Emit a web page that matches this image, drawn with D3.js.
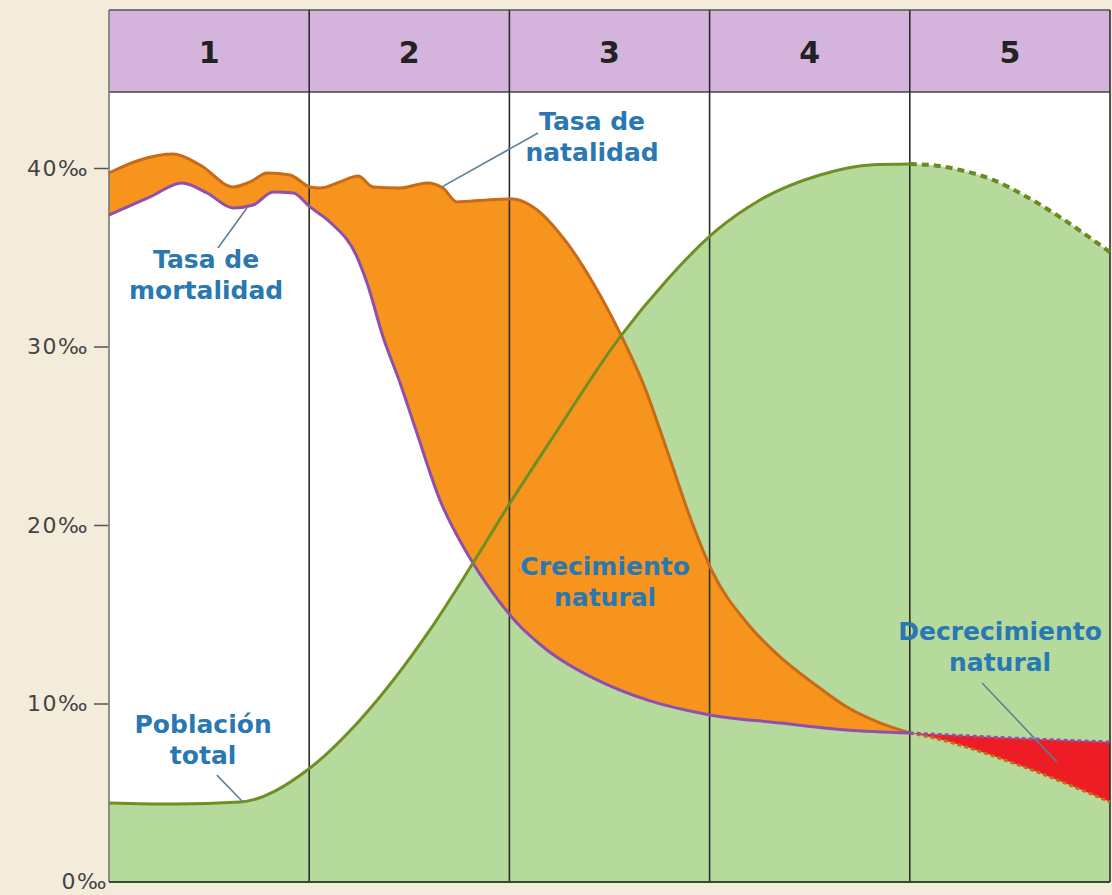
<!doctype html>
<html>
  <head>
    <meta charset="utf-8">
    <script src="https://cdn.jsdelivr.net/npm/d3@7/dist/d3.min.js"></script>
    <style>
      html, body { margin: 0; padding: 0; background: #f3ecdb; }
      svg { display: block; }
      .lbl { font-family: "DejaVu Sans", Verdana, sans-serif; font-weight: bold; font-size: 25px; fill: #2a78b2; }
    </style>
  </head>
  <body>
    <div id="chart"></div>
    <script>
      // stages (header)
      var stages = ["1", "2", "3", "4", "5"];
      var yTicks = [0, 10, 20, 30, 40];

      // [stage position, value ‰]
      var natalidad = [[0,39.72],[0.155,40.45],[0.32,40.78],[0.455,40.17],[0.62,38.94],[0.705,39.22],[0.79,39.72],
        [0.905,39.61],[1.004,38.94],[1.054,38.88],[1.154,39.22],[1.244,39.55],[1.319,38.94],[1.454,38.88],
        [1.588,39.16],[1.668,38.88],[1.738,38.10],[1.888,38.21],[2.018,38.26],[2.118,37.82],[2.288,35.80],
        [2.418,33.56],[2.552,30.76],[2.667,27.96],[2.787,24.20],[2.902,20.45],[3.017,17.31],[3.187,14.51],
        [3.352,12.61],[3.516,11.15],[3.686,9.80],[3.851,8.91],[4,8.35]];
      var natalidadFutura = [[4,8.35],[4.101,8.12],[4.515,6.67],[5,4.48]];

      var mortalidad = [[0,37.37],[0.205,38.38],[0.365,39.16],[0.49,38.60],[0.62,37.76],[0.72,37.93],[0.82,38.66],
        [0.92,38.60],[1.004,37.82],[1.104,36.97],[1.239,35.01],[1.289,33.56],[1.369,30.53],[1.454,27.96],
        [1.538,25.15],[1.653,21.40],[1.788,18.43],[1.918,16.19],[2.038,14.51],[2.188,13.00],[2.438,11.32],
        [2.687,10.20],[3.002,9.36],[3.352,8.91],[3.686,8.52],[4,8.35]];
      var mortalidadFutura = [[4,8.35],[4.5,8.07],[5,7.84]];

      var poblacion = [[0,4.43],[0.33,4.37],[0.654,4.48],[1.004,6.39],[1.254,9.08],[1.603,14.12],[1.818,17.87],
        [2.003,21.23],[2.218,24.93],[2.552,30.53],[2.787,33.73],[3.037,36.53],[3.252,38.21],[3.551,39.61],
        [3.801,40.17],[4,40.22]];
      var poblacionFutura = [[4,40.22],[4.101,40.17],[4.251,39.89],[4.416,39.33],[4.585,38.38],[4.75,37.25],
        [4.95,35.69],[5,35.29]];

      var W = 1112, H = 895;
      var svg = d3.select("#chart").append("svg").attr("width", W).attr("height", H);

      var x = d3.scaleLinear().domain([0, 5]).range([109, 1110]);
      var y = d3.scaleLinear().domain([0, 40]).range([882, 168]);
      var headTop = 10, headBot = 92;

      var line = d3.line().x(function(d){ return x(d[0]); }).y(function(d){ return y(d[1]); })
        .curve(d3.curveMonotoneX);

      // band between two curves
      function band(top, bottom) {
        return line(top) + line(bottom.slice().reverse()).replace(/^M/, "L") + "Z";
      }

      // plot background
      svg.append("rect").attr("x", x(0)).attr("y", headBot).attr("width", x(5) - x(0)).attr("height", y(0) - headBot)
        .attr("fill", "#ffffff");

      // population area
      var popAll = poblacion.concat(poblacionFutura.slice(1));
      var area = d3.area().x(function(d){ return x(d[0]); }).y0(y(0)).y1(function(d){ return y(d[1]); })
        .curve(d3.curveMonotoneX);
      svg.append("path").attr("d", area(popAll)).attr("fill", "#b6da9c");

      // natural growth (orange)
      svg.append("path").attr("d", band(natalidad, mortalidad)).attr("fill", "#f7941e");
      // natural decrease (red)
      svg.append("path").attr("d", band(mortalidadFutura, natalidadFutura)).attr("fill", "#ee1c25");

      // header
      svg.append("rect").attr("x", x(0)).attr("y", headTop).attr("width", x(5) - x(0)).attr("height", headBot - headTop)
        .attr("fill", "#d4b4dc");
      svg.append("line").attr("x1", x(0)).attr("x2", x(5)).attr("y1", headTop).attr("y2", headTop)
        .attr("stroke", "#555").attr("stroke-width", 1.5);
      svg.append("line").attr("x1", x(0)).attr("x2", x(5)).attr("y1", headBot).attr("y2", headBot)
        .attr("stroke", "#444").attr("stroke-width", 1.5);
      svg.selectAll(".stage").data(stages).enter().append("text")
        .attr("x", function(d, i){ return x(i + 0.5); })
        .attr("y", 63)
        .attr("text-anchor", "middle")
        .style("font-family", "DejaVu Sans, Verdana, sans-serif")
        .style("font-weight", "bold").style("font-size", "30px").style("fill", "#222")
        .text(function(d){ return d; });

      // stage dividers
      svg.selectAll(".div").data(d3.range(0, 6)).enter().append("line")
        .attr("x1", function(d){ return x(d); }).attr("x2", function(d){ return x(d); })
        .attr("y1", headTop).attr("y2", y(0))
        .attr("stroke", function(d){ return d === 0 ? "#777" : "#2b2f2a"; })
        .attr("stroke-width", 1.6);

      // curves
      svg.append("path").attr("d", line(natalidad)).attr("fill", "none").attr("stroke", "#c96a17").attr("stroke-width", 3);
      svg.append("path").attr("d", line(mortalidad)).attr("fill", "none").attr("stroke", "#8e4fae").attr("stroke-width", 3);
      svg.append("path").attr("d", line(natalidadFutura)).attr("fill", "none").attr("stroke", "#c96a17")
        .attr("stroke-width", 3).attr("stroke-dasharray", "4,3");
      svg.append("path").attr("d", line(mortalidadFutura)).attr("fill", "none").attr("stroke", "#8e4fae")
        .attr("stroke-width", 3).attr("stroke-dasharray", "4,3");
      svg.append("path").attr("d", line(poblacion)).attr("fill", "none").attr("stroke", "#6f8f22").attr("stroke-width", 3);
      svg.append("path").attr("d", line(poblacionFutura)).attr("fill", "none").attr("stroke", "#6a8a20")
        .attr("stroke-width", 4).attr("stroke-dasharray", "7,5");

      // bottom axis line
      svg.append("line").attr("x1", x(0)).attr("x2", x(5)).attr("y1", y(0)).attr("y2", y(0))
        .attr("stroke", "#3a4a30").attr("stroke-width", 2);

      // y axis
      var yAxis = svg.append("g").attr("transform", "translate(" + (x(0) - 1) + ",0)")
        .call(d3.axisLeft(y).tickValues(yTicks).tickSize(14).tickPadding(5)
          .tickFormat(function(d){ return d + "‰"; }));
      yAxis.select(".domain").remove();
      yAxis.selectAll(".tick line").attr("stroke", "#555").attr("stroke-width", 1.5);
      yAxis.selectAll(".tick text")
        .style("font-family", "DejaVu Sans, Verdana, sans-serif").style("font-size", "22px")
        .style("letter-spacing", "1.5px").style("fill", "#444");
      yAxis.selectAll(".tick").filter(function(d){ return d === 0; })
        .each(function(){
          d3.select(this).select("line").remove();
          d3.select(this).select("text").attr("x", 0).attr("dy", "0.3em");
        });

      // leader lines
      var leaders = [
        [[1.663, 38.94], [2.143, 41.96]],
        [[0.689, 37.76], [0.544, 35.52]],
        [[0.669, 4.48], [0.539, 5.99]],
        [[4.361, 11.15], [4.735, 6.72]]
      ];
      svg.selectAll(".leader").data(leaders).enter().append("line")
        .attr("x1", function(d){ return x(d[0][0]); }).attr("y1", function(d){ return y(d[0][1]); })
        .attr("x2", function(d){ return x(d[1][0]); }).attr("y2", function(d){ return y(d[1][1]); })
        .attr("stroke", "#5e7f98").attr("stroke-width", 1.6);

      // labels
      var labels = [
        { t: 2.413, v: 42.13, lines: ["Tasa de", "natalidad"] },
        { t: 0.485, v: 34.40, lines: ["Tasa de", "mortalidad"] },
        { t: 0.47, v: 8.35, lines: ["Población", "total"] },
        { t: 2.478, v: 17.20, lines: ["Crecimiento", "natural"] },
        { t: 4.451, v: 13.56, lines: ["Decrecimiento", "natural"] }
      ];
      labels.forEach(function(l){
        var tx = svg.append("text").attr("class", "lbl").attr("text-anchor", "middle")
          .attr("x", x(l.t)).attr("y", y(l.v));
        l.lines.forEach(function(s, i){
          tx.append("tspan").attr("x", x(l.t)).attr("dy", i === 0 ? 0 : 31).text(s);
        });
      });
    </script>
  </body>
</html>
